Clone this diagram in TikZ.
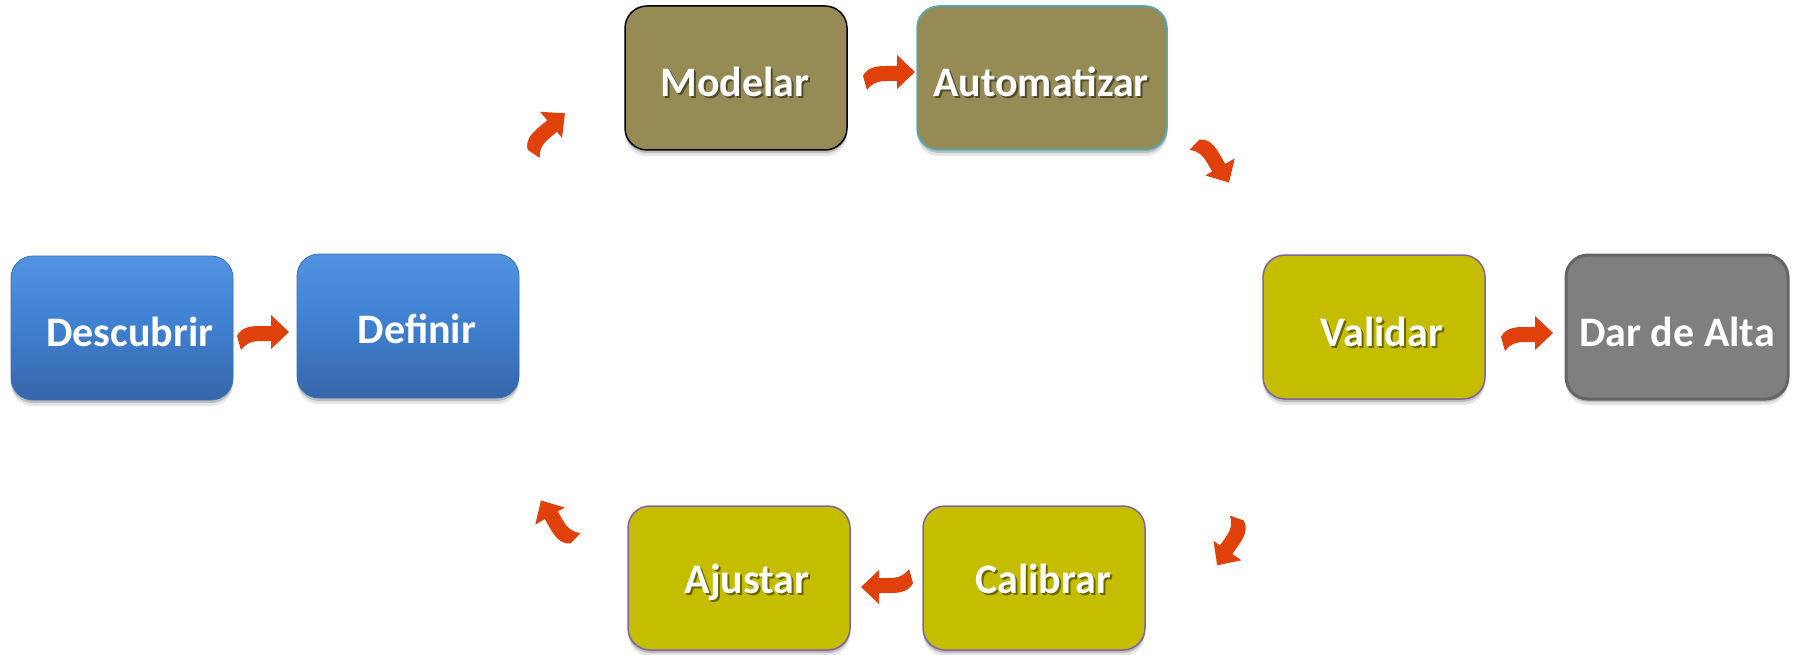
\documentclass[tikz,border=0pt]{standalone}
\usepackage{fontspec}
\setmainfont{Carlito}
\usetikzlibrary{shadows}
\definecolor{blueTop}{HTML}{5193E2}
\definecolor{blueMid}{HTML}{3F7FCF}
\definecolor{blueBot}{HTML}{3666A9}
\definecolor{blueEdge}{HTML}{3A6FB5}
\definecolor{olive}{HTML}{968A55}
\definecolor{cyanEdge}{HTML}{4BACC6}
\definecolor{yellowBox}{HTML}{C4BD00}
\definecolor{purpleEdge}{HTML}{8064A2}
\definecolor{grayBox}{HTML}{7F7F7F}
\definecolor{grayEdge}{HTML}{656565}
\definecolor{arrowc}{HTML}{E0400A}
\tikzset{
  box/.style={rounded corners=22pt, minimum width=222pt, minimum height=144pt, inner sep=0pt,
    drop shadow={shadow xshift=0pt, shadow yshift=-3pt, opacity=0.18, fill=black},
    drop shadow={shadow xshift=0pt, shadow yshift=-6pt, opacity=0.10, fill=black}},
  bluebox/.style={box, top color=blueTop, bottom color=blueBot, middle color=blueMid, draw=blueEdge, line width=0.8pt},
  olivebox/.style={box, fill=olive, draw=black, line width=1.5pt},
  olivecyan/.style={box, fill=olive, draw=cyanEdge, line width=1.5pt},
  yellowbox/.style={box, fill=yellowBox, draw=purpleEdge, line width=1.5pt},
  graybox/.style={box, fill=grayBox, draw=grayEdge, line width=3pt},
  lbl/.style={text=white, font=\bfseries\fontsize{42}{50}\selectfont, anchor=base, inner sep=0pt},
  lblsh/.style={lbl, text=black, opacity=0.45},
  arr/.pic={\fill[arrowc] (-26,4) .. controls (-22,-4) and (-14,-6) .. (-4,-6) -- (8,-6) -- (8,-17) -- (26,0) -- (8,17) -- (8,9) -- (-2,9) .. controls (-12,9) and (-18,12) .. (-22,18) -- cycle;}
}
\begin{document}
\begin{tikzpicture}[x=1pt,y=-1pt]
\useasboundingbox (0,0) rectangle (1801,655);
% boxes
\node[bluebox] (desc) at (122,328) {};
\node[bluebox] (defi) at (408,326) {};
\node[olivebox] (mode) at (736,78) {};
\node[olivecyan, minimum width=250pt] (auto) at (1042,78) {};
\node[yellowbox] (vali) at (1374,327) {};
\node[graybox] (alta) at (1677,327) {};
\node[yellowbox] (ajus) at (739,578) {};
\node[yellowbox] (cali) at (1034,578) {};
% labels
\node[lbl] (tdesc) at (130,346) {Descubrir};
\node[lbl] (tdefi) at (417,343) {Definir};
\node[lblsh] (smode) at (737,99) {Modelar};
\node[lbl] (tmode) at (735,97) {Modelar};
\node[lblsh] (sauto) at (1043,99) {Automatizar};
\node[lbl] (tauto) at (1041,97) {Automatizar};
\node[lblsh] (svali) at (1384,348) {Validar};
\node[lbl] (tvali) at (1382,346) {Validar};
\node[lbl] (talta) at (1677,346) {Dar de Alta};
\node[lblsh] (sajus) at (749,595) {Ajustar};
\node[lbl] (tajus) at (747,593) {Ajustar};
\node[lblsh] (scali) at (1045,595) {Calibrar};
\node[lbl] (tcali) at (1043,593) {Calibrar};
% arrows
\pic at (263,332) {arr};
\pic[rotate=40] at (545,130) {arr};
\pic at (889,72) {arr};
\pic[rotate=-60] at (1216,160) {arr};
\pic at (1527,333) {arr};
\pic[rotate=-125] at (1232,544) {arr};
\pic[rotate=180] at (887,587) {arr};
\pic[rotate=120] at (554,523) {arr};
\end{tikzpicture}
\end{document}
